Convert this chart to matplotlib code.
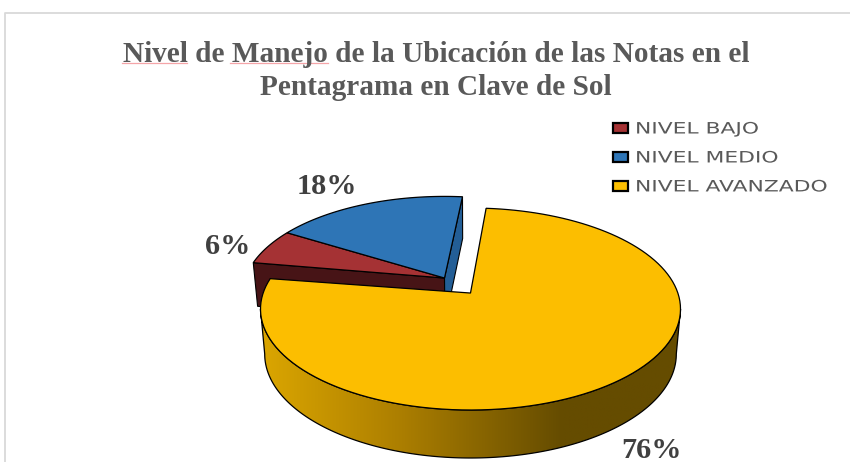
import numpy as np
import matplotlib
matplotlib.use('Agg')
import matplotlib.pyplot as plt
from matplotlib.colors import LinearSegmentedColormap
from matplotlib.patches import Patch, Polygon
from matplotlib.patheffects import AbstractPathEffect
from matplotlib.transforms import Affine2D

title = 'Nivel de Manejo de la Ubicación de las Notas en el\nPentagrama en Clave de Sol'
categories = ['NIVEL BAJO', 'NIVEL MEDIO', 'NIVEL AVANZADO']
values = [6, 18, 76]
colors = ['#A53234', '#2E75B6', '#FCBE00']
side_colors = ['#471416', '#235E96', '#FCBE00']
label_pos = [(228, 246), (327, 186), (652, 450)]

# pie drawn in pixel coordinates, y going down
cx, cy, rx, ry = 470.5, 309, 210, 101
persp = 0.158      # moves the pie centre back, like the 3d view
first_angle = 278.6
explode = [(-26, -15), (-26, -15), (0, 0)]
shrink = [0.96, 0.96, 1.0]
turn = [1.0, 1.0, 0.0]


def rim(theta, dx=0, dy=0, k=1.0):
    t = np.radians(theta)
    den = 1 + persp * np.cos(t)
    x = np.sin(t) * np.sqrt(1 - persp ** 2) / den
    y = (np.cos(t) + persp) / den
    # k pulls the rim towards the apex of the slice
    return cx + dx + rx * k * x, cy + dy - ry * (persp + k * (y - persp))


def drop(x, y):
    # lower edge of the pie wall
    return cx + (np.asarray(x) - cx) * 0.98, np.asarray(y) + 42 + (np.asarray(y) - 208) / 202 * 6


# the legend text in the picture is stretched sideways
class StretchX(AbstractPathEffect):
    def __init__(self, x0, factor):
        super().__init__()
        self.x0 = x0
        self.factor = factor

    def draw_path(self, renderer, gc, tpath, affine, rgbFace=None):
        st = Affine2D().translate(-self.x0, 0).scale(self.factor, 1).translate(self.x0, 0)
        renderer.draw_path(gc, tpath, affine + st, rgbFace)


fig = plt.figure(figsize=(8.5, 4.62), dpi=100)
ax = fig.add_axes([0, 0, 1, 1])

# frame of the chart, only top and left show
ax.plot([5, 5, 850], [462, 13, 13], color='#D9D9D9', lw=1.3, zorder=1)

angles = first_angle + np.cumsum([0] + values) * 3.6
wedges = []
for i in range(3):
    th = np.linspace(angles[i], angles[i + 1], 120) + turn[i]
    dx, dy = explode[i]
    x, y = rim(th, dx, dy, shrink[i])
    # apex of the slice is the projected centre
    px = np.concatenate([[cx + dx], x])
    py = np.concatenate([[cy + dy - ry * persp], y])
    wedges.append((px, py))

# cut faces of the two exploded slices
lx, ly = wedges[0]
bx, by = drop(lx, ly)
face = [(lx[0], ly[0]), (lx[1], ly[1]), (bx[1], by[1]), (bx[0], by[0])]
ax.add_patch(Polygon(face, fc=side_colors[0], ec='black', lw=0.8, zorder=2))
mx, my = wedges[1]
bx, by = drop(mx, my)
face = [(mx[0], my[0]), (mx[-1], my[-1]), (bx[-1], by[-1]), (bx[0], by[0])]
ax.add_patch(Polygon(face, fc=side_colors[1], ec='black', lw=0.8, zorder=2))

for i in range(2):
    ax.add_patch(Polygon(np.column_stack(wedges[i]), fc=colors[i], ec='black', lw=0.9, zorder=3))

# wall of the big slice with its gradient
lim = np.degrees(np.arccos(-persp))
th = np.linspace(lim, 360 - lim, 200)
x, y = rim(th)
bx, by = drop(x, y)
wall = Polygon(np.column_stack([np.concatenate([x, bx[::-1]]), np.concatenate([y, by[::-1]])]),
               fc='none', ec='black', lw=0.9, zorder=5)
wall_cmap = LinearSegmentedColormap.from_list('wall', [(0, '#DBA600'), (0.32, '#AE8000'), (0.72, '#654C00'), (1, '#654C00')])
ax.add_patch(wall)
im = ax.imshow(np.linspace(0, 1, 256)[None, :], extent=(261, 680, 470, 300), cmap=wall_cmap, aspect='auto', zorder=4)
im.set_clip_path(wall)

ax.add_patch(Polygon(np.column_stack(wedges[2]), fc=colors[2], ec='black', lw=0.9, zorder=6))

for v, pos in zip(values, label_pos):
    ax.text(pos[0], pos[1], f'{v}%', ha='center', va='center', family='Liberation Serif',
            fontweight='bold', fontsize=21.8, color='#404040', zorder=7)

ax.text(436, 71, title, ha='center', va='center', family='Liberation Serif', fontweight='bold',
        fontsize=21.1, color='#595959', linespacing=1.29)
# spell check marks under the first line
ax.plot([122, 187], [63, 63], color='#F5A5A8', lw=0.9)
ax.plot([230, 328], [63, 63], color='#F5A5A8', lw=0.9)

handles = [Patch(fc=c, ec='black', lw=1.6) for c in colors]
leg = ax.legend(handles, categories, loc='upper left', bbox_to_anchor=(0.7206, 0.737), frameon=False,
                prop={'family': 'DejaVu Sans', 'size': 11.3}, labelcolor='#595959', handlelength=1.0,
                handleheight=0.65, handletextpad=0.45, labelspacing=0.89, borderpad=0, borderaxespad=0)
for t in leg.get_texts():
    t.set_path_effects([StretchX(636, 1.39)])

ax.set_xlim(0, 850)
ax.set_ylim(462, 0)
ax.axis('off')
fig.savefig('out.png', dpi=100)
